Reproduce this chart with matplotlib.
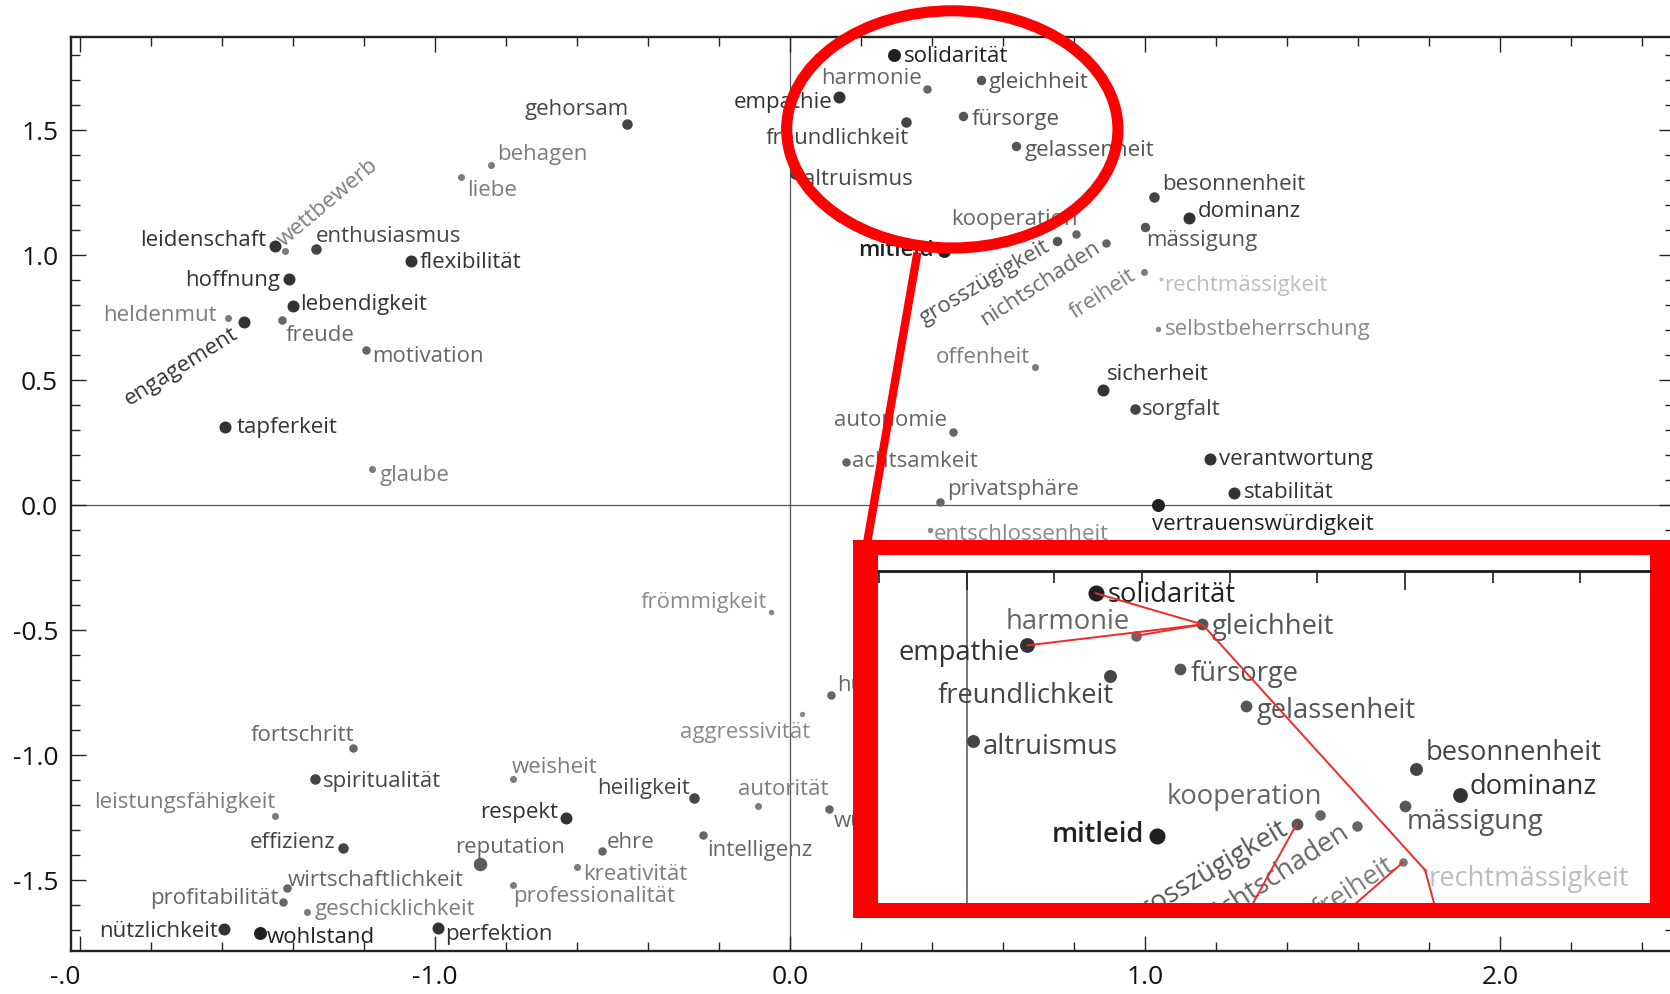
import matplotlib
matplotlib.use("Agg")
import matplotlib.pyplot as plt
from matplotlib.patches import Ellipse, Rectangle
from matplotlib.lines import Line2D
from matplotlib.ticker import FixedLocator, FixedFormatter, MultipleLocator

plt.rcParams['font.family'] = ['Open Sans', 'DejaVu Sans']

# ---------------------------------------------------------------- data
words = [
    "leidenschaft", "wettbewerb", "enthusiasmus", "flexibilität", "hoffnung",
    "lebendigkeit", "heldenmut", "engagement", "freude", "motivation",
    "tapferkeit", "glaube", "liebe", "behagen", "gehorsam",
    "solidarität", "harmonie", "empathie", "gleichheit", "freundlichkeit",
    "fürsorge", "gelassenheit", "altruismus", "kooperation", "mitleid",
    "grosszügigkeit", "nichtschaden", "freiheit", "besonnenheit", "dominanz",
    "mässigung", "rechtmässigkeit", "selbstbeherrschung", "offenheit", "sicherheit",
    "sorgfalt", "autonomie", "achtsamkeit", "privatsphäre", "vertrauenswürdigkeit",
    "entschlossenheit", "verantwortung", "stabilität",
    "frömmigkeit", "humor", "aggressivität", "fortschritt", "spiritualität",
    "leistungsfähigkeit", "effizienz", "wirtschaftlichkeit", "profitabilität",
    "geschicklichkeit", "nützlichkeit", "wohlstand", "perfektion", "reputation",
    "weisheit", "professionalität", "respekt", "heiligkeit", "autorität",
    "würde", "ehre", "intelligenz", "kreativität",
]
dim1 = [
    -1.451, -1.423, -1.334, -1.068, -1.410,
    -1.399, -1.582, -1.537, -1.430, -1.194,
    -1.592, -1.178, -0.928, -0.842, -0.460,
    0.294, 0.387, 0.138, 0.538, 0.328,
    0.487, 0.638, 0.015, 0.807, 0.434,
    0.753, 0.890, 0.996, 1.024, 1.125,
    1.001, 1.046, 1.037, 0.690, 0.883,
    0.972, 0.458, 0.157, 0.423, 1.037,
    0.394, 1.182, 1.251,
    -0.054, 0.115, 0.033, -1.230, -1.338,
    -1.451, -1.260, -1.418, -1.427,
    -1.361, -1.593, -1.493, -0.992, -0.873,
    -0.779, -0.779, -0.631, -0.270, -0.091,
    0.111, -0.530, -0.246, -0.599,
]
dim2 = [
    1.039, 1.018, 1.026, 0.978, 0.905,
    0.798, 0.749, 0.735, 0.742, 0.622,
    0.313, 0.145, 1.313, 1.361, 1.526,
    1.803, 1.665, 1.634, 1.702, 1.535,
    1.557, 1.437, 1.325, 1.084, 1.018,
    1.056, 1.048, 0.932, 1.234, 1.149,
    1.114, 0.906, 0.706, 0.553, 0.462,
    0.385, 0.295, 0.173, 0.013, 0.002,
    -0.098, 0.185, 0.049,
    -0.425, -0.759, -0.834, -0.971, -1.094,
    -1.242, -1.371, -1.531, -1.587,
    -1.625, -1.695, -1.709, -1.691, -1.435,
    -1.095, -1.518, -1.249, -1.169, -1.202,
    -1.214, -1.382, -1.318, -1.447,
]

# paths traced in the magnified panel
links = [
    ["solidarität", "gleichheit"],
    ["empathie", "gleichheit"],
    ["harmonie", "gleichheit"],
    ["gleichheit", "rechtmässigkeit", "verantwortung"],
    ["grosszügigkeit", "autonomie"],
    ["freiheit", "offenheit"],
]

x_ticks = [-2.0, -1.0, 0.0, 1.0, 2.0]
x_tick_labels = ["-.0", "-1.0", "0.0", "1.0", "2.0"]
y_ticks = [-1.5, -1.0, -0.5, 0.0, 0.5, 1.0, 1.5]
y_tick_labels = ["-1.5", "-1.0", "-0.5", "0.0", "0.5", "1.0", "1.5"]

# ---------------------------------------------------------------- styles
# tier -> (colour, dot diameter in px)
TIER_STYLE = {
    0: ("#202020", 13.0),
    1: ("#333333", 12.0),
    2: ("#454545", 10.5),
    3: ("#555555", 9.5),
    4: ("#666666", 8.5),
    5: ("#7c7c7c", 7.0),
    6: ("#8a8a8a", 5.5),
    7: ("#bdbdbd", 4.0),
    8: ("#5c5c5c", 13.5),
}
TIER = {
    "solidarität": 0, "mitleid": 0, "wohlstand": 0, "vertrauenswürdigkeit": 0,
    "leidenschaft": 1, "flexibilität": 1, "tapferkeit": 1, "dominanz": 1,
    "sicherheit": 1, "stabilität": 1, "perfektion": 1, "nützlichkeit": 1,
    "respekt": 1, "empathie": 1, "hoffnung": 1, "lebendigkeit": 1,
    "engagement": 1, "verantwortung": 1,
    "gehorsam": 2, "enthusiasmus": 2, "freundlichkeit": 2, "besonnenheit": 2,
    "altruismus": 2, "spiritualität": 2, "effizienz": 2, "heiligkeit": 2,
    "sorgfalt": 2,
    "mässigung": 3, "grosszügigkeit": 3, "gleichheit": 3, "fürsorge": 3,
    "gelassenheit": 3,
    "harmonie": 4, "kooperation": 4, "nichtschaden": 4, "freude": 4,
    "motivation": 4, "fortschritt": 4, "wirtschaftlichkeit": 4,
    "profitabilität": 4, "ehre": 4, "intelligenz": 4, "autonomie": 4,
    "privatsphäre": 4, "humor": 4, "würde": 4, "achtsamkeit": 4,
    "wettbewerb": 5, "heldenmut": 5, "liebe": 5, "behagen": 5, "glaube": 5,
    "freiheit": 5, "offenheit": 5, "leistungsfähigkeit": 5, "weisheit": 5,
    "professionalität": 5, "kreativität": 5, "autorität": 5,
    "geschicklichkeit": 5,
    "selbstbeherrschung": 6, "frömmigkeit": 6, "aggressivität": 6,
    "entschlossenheit": 6,
    "rechtmässigkeit": 7,
    "reputation": 8,
}
# label placement: (dx px, dy px downwards, alignment, rotation)
LABEL = {
    "leidenschaft": (-8, 0, "right", 0),
    "wettbewerb": (-1, -4, "left", 40),
    "enthusiasmus": (-1, -7, "left", 0),
    "flexibilität": (9, 7, "left", 0),
    "hoffnung": (-9, 7, "right", 0),
    "lebendigkeit": (7, 4, "left", 0),
    "heldenmut": (-12, 3, "right", 0),
    "engagement": (-5, 15, "right", 32),
    "freude": (3, 21, "left", 0),
    "motivation": (6, 12, "left", 0),
    "tapferkeit": (12, 6, "left", 0),
    "glaube": (8, 12, "left", 0),
    "liebe": (7, 19, "left", 0),
    "behagen": (6, -5, "left", 0),
    "gehorsam": (2, -9, "right", 0),
    "solidarität": (10, 7, "left", 0),
    "harmonie": (-5.5, -5.5, "right", 0),
    "empathie": (-6, 11.5, "right", 0),
    "gleichheit": (7.6, 8, "left", 0),
    "freundlichkeit": (2.5, 22, "right", 0),
    "fürsorge": (8.5, 9.2, "left", 0),
    "gelassenheit": (8, 9.4, "left", 0),
    "altruismus": (7.5, 10.8, "left", 0),
    "kooperation": (1, -9, "right", 0),
    "mitleid": (-10.5, 5.4, "right", 0),
    "grosszügigkeit": (-6, 8, "right", 30.5),
    "nichtschaden": (-5, 7, "right", 33),
    "freiheit": (-6, 6, "right", 33),
    "besonnenheit": (8.6, -7, "left", 0),
    "dominanz": (8, -0.8, "left", 0),
    "mässigung": (1, 19, "left", 0),
    "rechtmässigkeit": (3, 12.5, "left", 0),
    "selbstbeherrschung": (6.7, 6, "left", 0),
    "offenheit": (-5, -4, "right", 0),
    "sicherheit": (3.4, -10, "left", 0),
    "sorgfalt": (6.7, 5.7, "left", 0),
    "autonomie": (-6, -5.7, "right", 0),
    "achtsamkeit": (6.4, 4.7, "left", 0),
    "privatsphäre": (7.3, -7.3, "left", 0),
    "vertrauenswürdigkeit": (-6.6, 25, "left", 0),
    "entschlossenheit": (4, 10, "left", 0),
    "verantwortung": (9, 5.7, "left", 0),
    "stabilität": (9.3, 4.4, "left", 0),
    "frömmigkeit": (-3.7, -3.4, "right", 0),
    "humor": (6.7, -4.6, "left", 0),
    "aggressivität": (8.3, 24.3, "right", 0),
    "fortschritt": (0.7, -7.6, "right", 0),
    "spiritualität": (8.3, 8.3, "left", 0),
    "leistungsfähigkeit": (1, -7.7, "right", 0),
    "effizienz": (-7.7, 0, "right", 0),
    "wirtschaftlichkeit": (1.6, -2.3, "left", 0),
    "profitabilität": (-5, 2, "right", 0),
    "geschicklichkeit": (8.3, 3.3, "left", 0),
    "nützlichkeit": (-6, 7.4, "right", 0),
    "wohlstand": (6.7, 10.6, "left", 0),
    "perfektion": (7.3, 11.7, "left", 0),
    "reputation": (-25, -11, "left", 0),
    "weisheit": (-1.6, -6, "left", 0),
    "professionalität": (0, 16.7, "left", 0),
    "respekt": (-8.3, 0.6, "right", 0),
    "heiligkeit": (-4.3, -3.7, "right", 0),
    "autorität": (-19.4, -11, "left", 0),
    "würde": (4, 17.7, "left", 0),
    "ehre": (5, -2.7, "left", 0),
    "intelligenz": (5, 21, "left", 0),
    "kreativität": (6, 12.7, "left", 0),
}
BOLD = {"mitleid"}

W, H = 1670, 994
LABEL_PT = 16
TICK_PT = 19
RED = "#ff0000"


def fig_box(left, top, right, bottom):
    """pixel box (from the top-left corner) -> figure fraction rectangle"""
    return [left / W, 1 - bottom / H, (right - left) / W, (bottom - top) / H]


def draw_map(ax, k, clip):
    for w, x, y in zip(words, dim1, dim2):
        color, diam = TIER_STYLE[TIER[w]]
        ax.plot([x], [y], "o", ms=diam * 0.72 * k, color=color, mec="none", zorder=3)
        dx, dy, ha, rot = LABEL[w]
        kw = dict(clip_on=True) if clip else {}
        ax.annotate(w, (x, y), xytext=(dx * k, -dy * k), textcoords="offset pixels",
                    ha=ha, va="baseline", rotation=rot, rotation_mode="anchor",
                    fontsize=LABEL_PT * k, color=color if TIER[w] != 8 else "#666666",
                    fontweight="semibold" if w in BOLD else "normal", zorder=4, **kw)


fig = plt.figure(figsize=(W / 100, H / 100), dpi=100, facecolor="white")

# ---------------------------------------------------------------- main map
ax = fig.add_axes(fig_box(70.7, 36.7, 1674, 951))
ax.set_xlim(-2.026, 2.49)
ax.set_ylim(-1.782, 1.875)
ax.axvline(0, color="#555555", lw=0.9, zorder=1)
ax.axhline(0, color="#555555", lw=0.9, zorder=1)
draw_map(ax, 1.0, clip=False)

ax.xaxis.set_major_locator(FixedLocator(x_ticks))
ax.xaxis.set_major_formatter(FixedFormatter(x_tick_labels))
ax.xaxis.set_minor_locator(MultipleLocator(0.2))
ax.yaxis.set_major_locator(FixedLocator(y_ticks))
ax.yaxis.set_major_formatter(FixedFormatter(y_tick_labels))
ax.yaxis.set_minor_locator(MultipleLocator(0.1))
ax.tick_params(which="both", direction="in", top=True, right=True,
               color="#222222", width=1.0, labelsize=TICK_PT, labelcolor="#111111")
ax.tick_params(which="major", length=10.8)
ax.tick_params(which="minor", length=6.8)
ax.tick_params(axis="y", which="major", pad=9)
ax.tick_params(axis="x", which="major", pad=10)
ax.xaxis.get_major_ticks()[0].label1.set_horizontalalignment("right")
for s in ax.spines.values():
    s.set_color("#222222")
    s.set_linewidth(1.7)

# ---------------------------------------------------------------- callout
fig.add_artist(Ellipse((952.3 / W, 1 - 129.4 / H), 331.3 / W, 237.2 / H,
                       transform=fig.transFigure, fill=False, ec=RED, lw=8, zorder=6))
fig.add_artist(Line2D([916.7 / W, 866.7 / W], [1 - 256.7 / H, 1 - 545 / H],
                      transform=fig.transFigure, color=RED, lw=6, zorder=6))
fig.add_artist(Rectangle((853 / W, 1 - 917.7 / H), (1700 - 853) / W, (917.7 - 540) / H,
                         transform=fig.transFigure, fc=RED, ec="none", zorder=3))
fig.add_artist(Rectangle((877.7 / W, 1 - 902.7 / H), (1650 - 877.7) / W, (902.7 - 555) / H,
                         transform=fig.transFigure, fc="white", ec="none", zorder=3.1))

# ---------------------------------------------------------------- magnified panel
k = 1.2346
axi = fig.add_axes(fig_box(877.7, 571, 1650, 902.7), zorder=4)
axi.set_xlim(-0.203, 1.559)
axi.set_ylim(0.8005, 1.875)
axi.axvline(0, color="#555555", lw=0.9 * k, zorder=1)
draw_map(axi, k, clip=True)
lookup = {w: (x, y) for w, x, y in zip(words, dim1, dim2)}
for path in links:
    axi.plot([lookup[w][0] for w in path], [lookup[w][1] for w in path],
             color="#ee2a2a", lw=1.4, zorder=6, solid_capstyle="round")
axi.xaxis.set_major_locator(MultipleLocator(1.0))
axi.xaxis.set_minor_locator(MultipleLocator(0.2))
axi.yaxis.set_major_locator(FixedLocator([]))
axi.tick_params(which="both", direction="in", top=True, bottom=False, left=False,
                right=False, labelbottom=False, labelleft=False, color="#222222", width=1.0 * k)
axi.tick_params(which="major", length=10.8 * k)
axi.tick_params(which="minor", length=6.8 * k)
for name, s in axi.spines.items():
    s.set_visible(name == "top")
axi.spines["top"].set_color("#222222")
axi.spines["top"].set_linewidth(1.7 * k)

fig.savefig("out.png", dpi=100, facecolor="white")
